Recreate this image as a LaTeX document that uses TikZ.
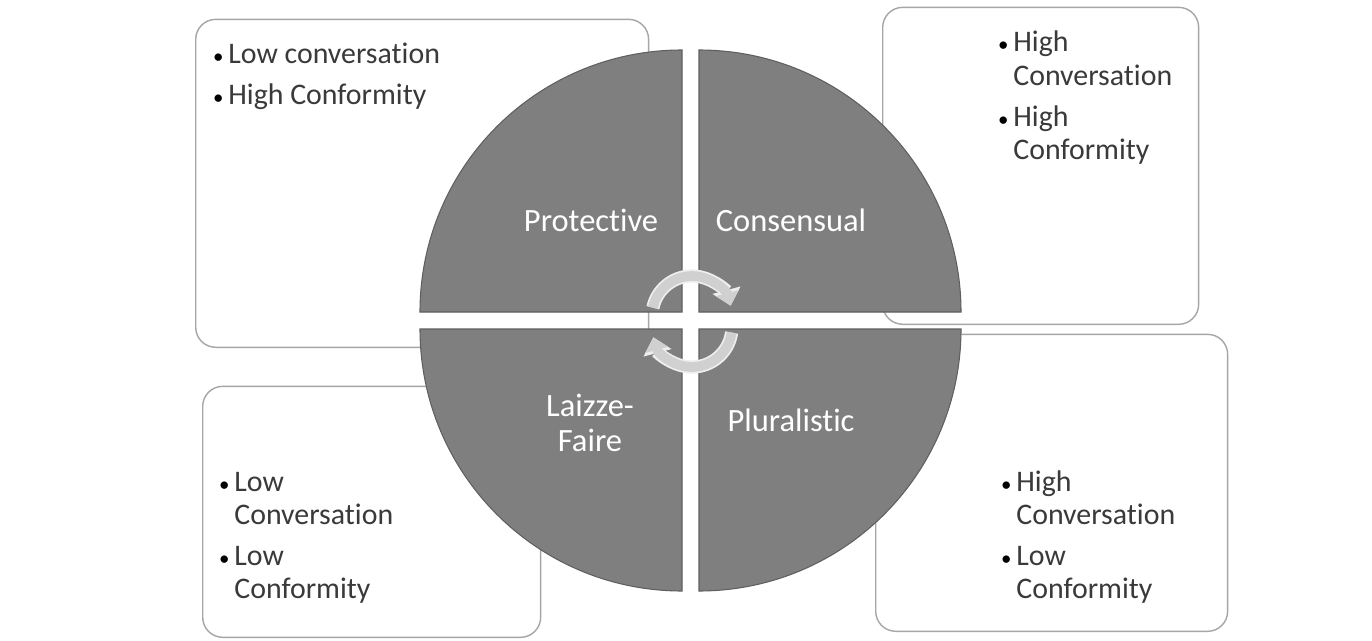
\documentclass[tikz,border=0pt]{standalone}
\usepackage{fontspec}
\setmainfont{Carlito}[Ligatures=NoCommon]
\usetikzlibrary{arrows.meta}
\definecolor{slicefill}{HTML}{7F7F7F}
\definecolor{sliceline}{HTML}{5F5F5F}
\definecolor{boxline}{HTML}{A6A6A6}
\definecolor{bodytext}{HTML}{3A3A3A}
\definecolor{turnfill}{HTML}{D0D0D0}
\definecolor{turnedge}{HTML}{EEEEEE}
\newcommand{\bul}{\makebox[0.4cm][c]{\textcolor{black}{\scalebox{0.7}{\textbullet}}}}

\begin{document}
\begin{tikzpicture}[
    x=0.02cm, y=0.02cm,
    infobox/.style={draw=boxline, line width=0.8pt, fill=white, rounded corners=0.4cm, anchor=south west, inner sep=0pt},
    bullets/.style={anchor=base west, inner sep=0pt, text=bodytext, font=\fontsize{17}{18.8}\selectfont},
    quarter/.style={fill=slicefill, draw=sliceline, line width=0.6pt},
    quadlabel/.style={text=white, align=center, font=\fontsize{18.5}{20}\selectfont},
    turnedge/.style={line width=7.5pt, draw=turnedge, -{Triangle[width=0.56cm, length=0.32cm]}},
    turn/.style={line width=5.5pt, draw=turnfill, -{Triangle[width=0.46cm, length=0.26cm]}}
  ]
    \useasboundingbox[fill=white] (0,0) rectangle (1372,640);

    % boxes behind the circle
    \node[infobox, minimum width=9.06cm, minimum height=6.56cm] (boxPro) at (195,292) {};
    \node[infobox, minimum width=6.32cm, minimum height=6.34cm] (boxCon) at (882,315) {};
    \node[infobox, minimum width=6.76cm, minimum height=5.02cm] (boxLai) at (202,2) {};
    \node[infobox, minimum width=7.04cm, minimum height=5.94cm] (boxPlu) at (875,8) {};

    \node[bullets] (txtPro) at (208,576) {\begin{tabular}[t]{@{}l@{}l@{}}\bul & Low conversation\\[4pt] \bul & High Conformity\end{tabular}};
    \node[bullets] (txtCon) at (993,588) {\begin{tabular}[t]{@{}l@{}l@{}}\bul & High\\ & Conversation\\[5pt] \bul & High\\ & Conformity\end{tabular}};
    \node[bullets] (txtLai) at (214,149) {\begin{tabular}[t]{@{}l@{}l@{}}\bul & Low\\ & Conversation\\[5pt] \bul & Low\\ & Conformity\end{tabular}};
    \node[bullets] (txtPlu) at (996,149) {\begin{tabular}[t]{@{}l@{}l@{}}\bul & High\\ & Conversation\\[5pt] \bul & Low\\ & Conformity\end{tabular}};

    % the four quarters
    \draw[quarter] (682,328) -- ++(-262,0) arc (180:90:262) -- cycle;
    \draw[quarter] (699,328) -- ++(0,262) arc (90:0:262) -- cycle;
    \draw[quarter] (682,311) -- ++(0,-262) arc (270:180:262) -- cycle;
    \draw[quarter] (699,311) -- ++(262,0) arc (0:-90:262) -- cycle;

    \node[quadlabel] (protective) at (591,420) {Protective};
    \node[quadlabel] (consensual) at (791,420) {Consensual};
    \node[quadlabel] (laissez) at (590,217) {Laizze-\\Faire};
    \node[quadlabel] (pluralistic) at (791,220) {Pluralistic};

    % turning arrows in the middle
    \draw[turnedge] (692,324) ++(168:40) arc (168:15:40);
    \draw[turn] (692,324) ++(168:40) arc (168:15:40);
    \draw[turnedge] (692,313) ++(-8:40) arc (-8:-165:40);
    \draw[turn] (692,313) ++(-8:40) arc (-8:-165:40);
  \end{tikzpicture}
\end{document}
